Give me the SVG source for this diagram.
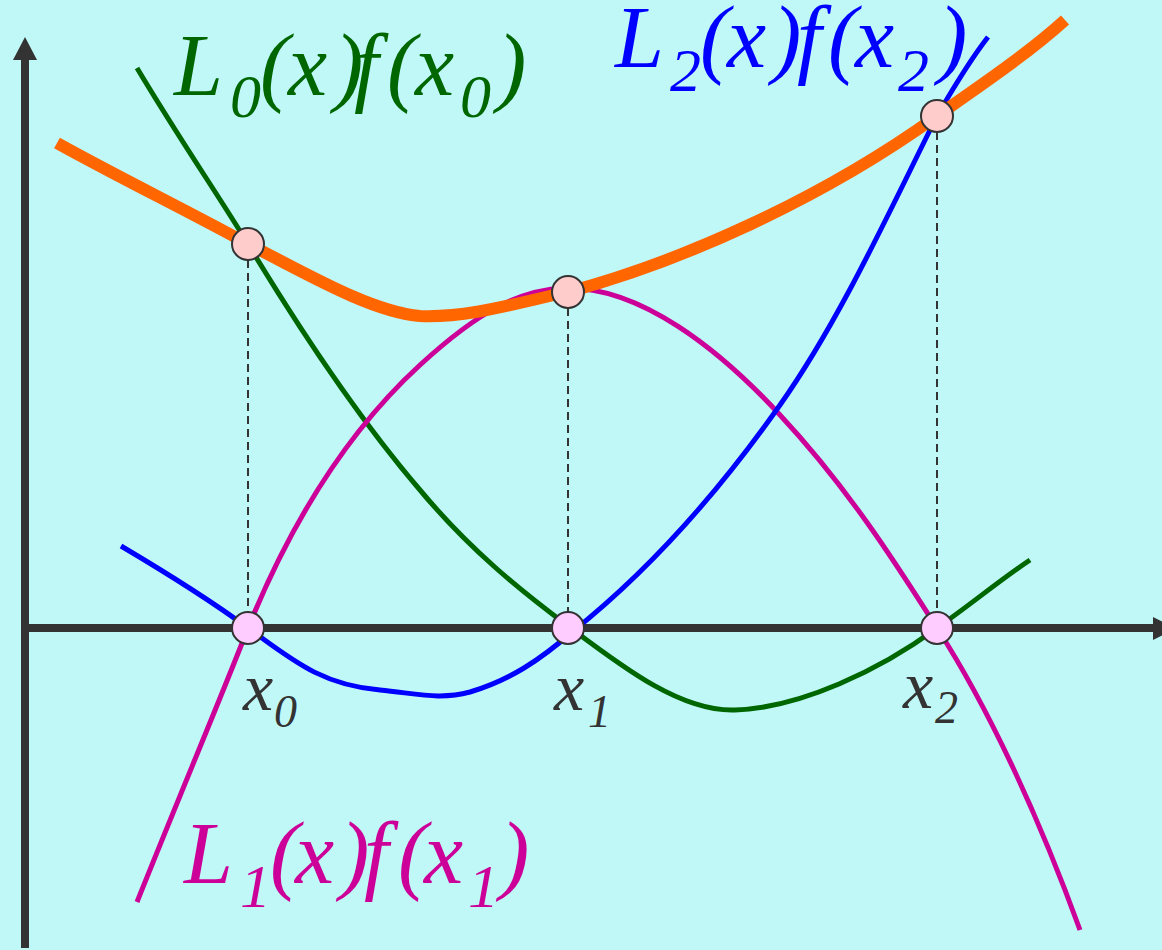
<svg xmlns="http://www.w3.org/2000/svg" width="1162" height="950" viewBox="0 0 1162 950">
<style>
.axis{stroke:#333333;stroke-width:8;fill:none}
.arrow{fill:#333333}
.guide{stroke:#333333;stroke-width:2;stroke-dasharray:8 5;fill:none}
.curve{fill:none;stroke-width:5;stroke-linecap:butt;stroke-linejoin:round}
.l0{stroke:#006600}
.l1{stroke:#CC0099}
.l2{stroke:#0000FF}
.p{fill:none;stroke:#FF6600;stroke-width:12;stroke-linejoin:round}
.nb{fill:#FFCCFF;stroke:#333333;stroke-width:2}
.nt{fill:#FFCCCC;stroke:#333333;stroke-width:2}
</style>
<rect x="0" y="0" width="1162" height="950" fill="#C0F8F8"/>
<g id="axes">
<line class="axis" x1="25" y1="948" x2="25" y2="58"/>
<polygon class="arrow" points="13,60 25,37 37,60"/>
<line class="axis" x1="21" y1="628" x2="1155" y2="628"/>
<polygon class="arrow" points="1153,617 1176,628.5 1153,640"/>
</g>
<g id="connectors">
<line class="guide" x1="248" y1="260" x2="248" y2="612"/>
<line class="guide" x1="568" y1="308" x2="568" y2="612"/>
<line class="guide" x1="937" y1="132" x2="937" y2="612"/>
<path id="curve-L0" class="curve l0" d="M137,68 C180,140 215,190 248,244 C300,330 360,420 420,490 C470,550 520,590 568,626 C620,665 680,712 735,710 C800,708 880,670 937,628 C970,605 1000,580 1030,560"/>
<path id="curve-L1" class="curve l1" d="M137,902 C190,770 220,700 248,628 C300,500 360,420 420,365 C480,310 520,290 565,288 C640,286 720,350 780,415 C850,490 900,570 937,628 C990,710 1040,820 1080,930"/>
<path id="curve-L2" class="curve l2" d="M121,546 C170,575 210,600 248,628 C290,658 320,685 380,690 C420,694 440,700 470,692 C510,680 540,660 572,632 C650,570 720,490 780,405 C840,320 890,210 937,116 C955,85 970,60 988,37"/>
<path id="curve-P" class="p" d="M57,143 C120,178 190,212 248,244 C300,270 370,312 420,316 C470,318 520,302 568,292 C680,262 820,200 937,116 C980,86 1030,52 1065,20"/>
</g>
<g id="node-x0-axis"><circle class="nb" cx="248" cy="628" r="16"/></g>
<g id="node-x1-axis"><circle class="nb" cx="568" cy="628" r="16"/></g>
<g id="node-x2-axis"><circle class="nb" cx="937" cy="628" r="16"/></g>
<g id="node-x0-top"><circle class="nt" cx="248" cy="244" r="16"/></g>
<g id="node-x1-top"><circle class="nt" cx="568" cy="292" r="16"/></g>
<g id="node-x2-top"><circle class="nt" cx="937" cy="116" r="16"/></g>
<g id="label-L0" font-family="'Liberation Serif', 'Times New Roman', serif" font-style="italic" font-size="88" fill="#006600">
<text><tspan x="174" y="95">L</tspan><tspan font-size="62" x="230" y="117">0</tspan><tspan x="260" y="95">(</tspan><tspan x="288" y="95">x</tspan><tspan x="334" y="95">)</tspan><tspan x="354" y="95">f</tspan><tspan x="387" y="95">(</tspan><tspan x="415" y="95">x</tspan><tspan font-size="62" x="460" y="117">0</tspan><tspan x="497" y="95">)</tspan></text>
</g>
<g id="label-L2" font-family="'Liberation Serif', 'Times New Roman', serif" font-style="italic" font-size="88" fill="#0000FF">
<text><tspan x="615" y="67">L</tspan><tspan font-size="62" x="670" y="91">2</tspan><tspan x="700" y="67">(</tspan><tspan x="727" y="67">x</tspan><tspan x="772" y="67">)</tspan><tspan x="797" y="67">f</tspan><tspan x="828" y="67">(</tspan><tspan x="855" y="67">x</tspan><tspan font-size="62" x="898" y="91">2</tspan><tspan x="938" y="67">)</tspan></text>
</g>
<g id="label-L1" font-family="'Liberation Serif', 'Times New Roman', serif" font-style="italic" font-size="88" fill="#CC0099">
<text><tspan x="184" y="883">L</tspan><tspan font-size="62" x="240" y="907">1</tspan><tspan x="270" y="883">(</tspan><tspan x="295" y="883">x</tspan><tspan x="340" y="883">)</tspan><tspan x="364" y="883">f</tspan><tspan x="398" y="883">(</tspan><tspan x="424" y="883">x</tspan><tspan font-size="62" x="468" y="907">1</tspan><tspan x="500" y="883">)</tspan></text>
</g>
<g id="label-x0" font-family="'Liberation Serif', 'Times New Roman', serif" font-style="italic" font-size="68" fill="#333333"><text><tspan x="243" y="710">x</tspan><tspan font-size="46" x="274" y="727">0</tspan></text></g>
<g id="label-x1" font-family="'Liberation Serif', 'Times New Roman', serif" font-style="italic" font-size="68" fill="#333333"><text><tspan x="554" y="710">x</tspan><tspan font-size="46" x="588" y="727">1</tspan></text></g>
<g id="label-x2" font-family="'Liberation Serif', 'Times New Roman', serif" font-style="italic" font-size="68" fill="#333333"><text><tspan x="903" y="708">x</tspan><tspan font-size="46" x="935" y="723">2</tspan></text></g>
</svg>
